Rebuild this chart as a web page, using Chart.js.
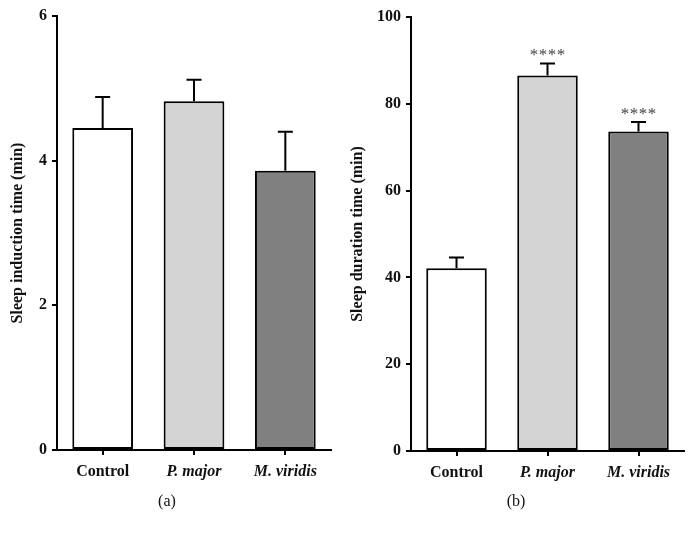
<!DOCTYPE html>
<html>
<head>
<meta charset="utf-8">
<script src="https://cdn.jsdelivr.net/npm/chart.js@4"></script>
<style>
  body { margin: 0; background: #fff; }
  #wrap { position: relative; width: 695px; height: 535px; }
  canvas { position: absolute; top: 0; }
  #leftChart { left: 0; }
  #rightChart { left: 336px; }
  .cap { position: absolute; top: 492px; font: 16px "Liberation Serif", serif; color: #111; transform: translateX(-50%); }
</style>
</head>
<body>
<div id="wrap">
  <canvas id="leftChart" width="335" height="535"></canvas>
  <canvas id="rightChart" width="359" height="535"></canvas>
  <div class="cap" style="left:167px">(a)</div>
  <div class="cap" style="left:516px">(b)</div>
</div>
<script>
const groups = ['Control', 'P. major', 'M. viridis'];
const barColors = ['#ffffff', '#d4d4d4', '#808080'];

// panel (a): sleep induction time
const inductionMeans = [4.45, 4.82, 3.86];
const inductionErrors = [0.43, 0.30, 0.54];
const inductionTicks = [0, 2, 4, 6];

// panel (b): sleep duration time
const durationMeans = [42.1, 86.5, 73.6];
const durationErrors = [2.5, 2.8, 2.2];
const durationTicks = [0, 20, 40, 60, 80, 100];
const durationStars = ['', '****', '****'];

const serif = '"Liberation Serif", "Times New Roman", serif';

// upper error whiskers and significance stars
const errorBarPlugin = {
  id: 'errorBars',
  afterDatasetsDraw(chart, args, opts) {
    const ctx = chart.ctx;
    const meta = chart.getDatasetMeta(0);
    const y = chart.scales.y;
    ctx.save();
    ctx.strokeStyle = '#000';
    ctx.lineWidth = 2;
    meta.data.forEach((bar, i) => {
      const top = y.getPixelForValue(opts.means[i] + opts.errors[i]);
      const base = y.getPixelForValue(opts.means[i]);
      ctx.beginPath();
      ctx.moveTo(bar.x, base);
      ctx.lineTo(bar.x, top);
      ctx.moveTo(bar.x - 7.5, top);
      ctx.lineTo(bar.x + 7.5, top);
      ctx.stroke();
      if (opts.stars && opts.stars[i]) {
        const n = opts.stars[i].length;
        ctx.fillStyle = '#444';
        ctx.font = '17px ' + serif;
        ctx.textAlign = 'center';
        ctx.textBaseline = 'alphabetic';
        for (let k = 0; k < n; k++) {
          ctx.fillText('*', bar.x + (k - (n - 1) / 2) * 9, top - 3);
        }
      }
    });
    ctx.restore();
  }
};

function makeChart(id, means, errors, ticks, stars, title, axisWidth, xHeight, padTop, padRight, titlePad) {
  return new Chart(document.getElementById(id), {
    type: 'bar',
    data: {
      labels: groups,
      datasets: [{
        data: means,
        backgroundColor: barColors,
        borderColor: '#000',
        borderWidth: 2,
        borderSkipped: false,
        categoryPercentage: 1,
        barPercentage: 0.665
      }]
    },
    options: {
      responsive: false,
      animation: false,
      devicePixelRatio: 1,
      layout: { padding: { top: padTop, right: padRight, left: 0, bottom: 0 } },
      plugins: {
        legend: { display: false },
        tooltip: { enabled: false },
        errorBars: { means: means, errors: errors, stars: stars }
      },
      scales: {
        x: {
          afterFit: s => { s.height = xHeight; },
          grid: { drawOnChartArea: false, drawTicks: true, tickLength: 5, offset: false, color: '#000', lineWidth: 2 },
          border: { display: true, color: '#000', width: 2 },
          ticks: {
            color: '#111',
            padding: 7,
            font: c => ({ family: serif, size: 16, weight: 'bold', style: c.index === 0 ? 'normal' : 'italic' })
          }
        },
        y: {
          min: ticks[0],
          max: ticks[ticks.length - 1],
          afterFit: s => { s.width = axisWidth; },
          afterBuildTicks: s => { s.ticks = ticks.map(v => ({ value: v })); },
          grid: { drawOnChartArea: false, drawTicks: true, tickLength: 5, color: '#000', lineWidth: 2 },
          border: { display: true, color: '#000', width: 2 },
          ticks: { color: '#111', padding: 5, font: { family: serif, size: 16, weight: 'bold' } },
          title: {
            display: true,
            text: title,
            color: '#111',
            padding: { top: titlePad, bottom: 0 },
            font: { family: serif, size: 16, weight: 'bold' }
          }
        }
      }
    },
    plugins: [errorBarPlugin]
  });
}

makeChart('leftChart', inductionMeans, inductionErrors, inductionTicks, null,
  'Sleep induction time (min)', 57, 85, 16, 4, 8);
makeChart('rightChart', durationMeans, durationErrors, durationTicks, durationStars,
  'Sleep duration time (min)', 75, 84, 17, 11, 12);
</script>
</body>
</html>
